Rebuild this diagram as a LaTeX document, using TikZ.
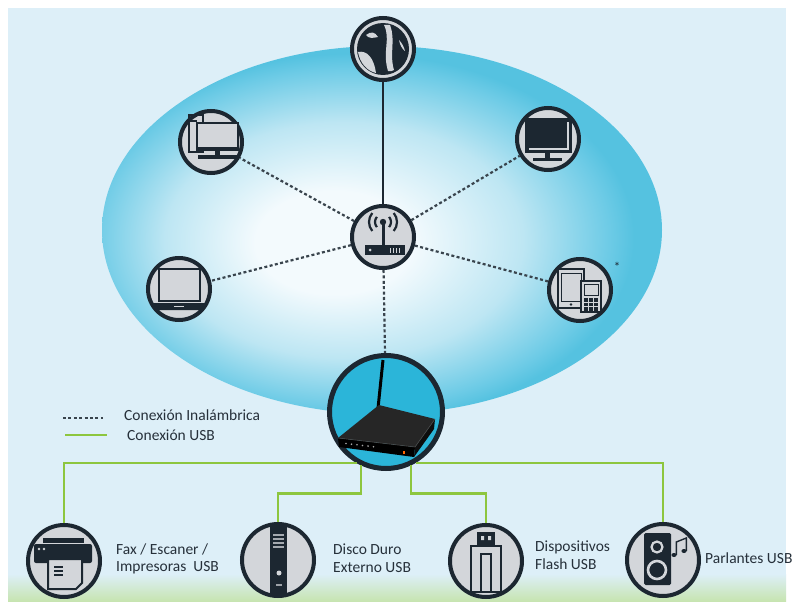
\documentclass[tikz,border=0pt]{standalone}
\usepackage{fontspec}
\setmainfont{Carlito}
\usetikzlibrary{positioning}

\definecolor{bgblue}{HTML}{DDEFF8}
\definecolor{bggreen}{HTML}{C6E4AE}
\definecolor{bubcore}{HTML}{F3FAFD}
\definecolor{bubmid}{HTML}{BDE6F3}
\definecolor{bubedge}{HTML}{6DCBE6}
\definecolor{bubrim}{HTML}{55C2E0}
\definecolor{devline}{HTML}{1C2731}
\definecolor{devgrey}{HTML}{D3D6DA}
\definecolor{modemcyan}{HTML}{2BB5D9}
\definecolor{dashgrey}{HTML}{39444D}
\definecolor{usbgreen}{HTML}{8DC63F}
\definecolor{txtdark}{HTML}{26303A}

% soft bubble behind the wireless devices
\pgfdeclareradialshading{bubble}{\pgfpoint{-5bp}{-2bp}}{%
  color(0bp)=(bubcore); color(7bp)=(bubcore); color(16bp)=(bubmid);
  color(23bp)=(bubedge); color(25bp)=(bubrim); color(50bp)=(bubrim)}

\begin{document}
\begin{tikzpicture}[x=1pt, y=-1pt,
    device/.style={circle, draw=devline, line width=4pt, fill=devgrey, minimum size=62pt, inner sep=0pt},
    usbdevice/.style={device, minimum size=72pt},
    bigdevice/.style={device, minimum size=113pt, line width=5pt, fill=modemcyan},
    wifi/.style={draw=dashgrey, line width=2.2pt, dash pattern=on 3pt off 2.4pt},
    cable/.style={draw=devline, line width=1.6pt},
    usb/.style={draw=usbgreen, line width=2.8pt},
    lbl/.style={anchor=west, inner sep=0pt, align=left, text=txtdark, font=\fontsize{15.5}{17.5}\selectfont}
  ]
  \useasboundingbox (0,0) rectangle (793,602);

  % background
  \fill[white] (0,0) rectangle (793,602);
  \fill[bgblue] (8,8) rectangle (786,602);
  \shade[top color=bgblue, bottom color=bggreen] (8,574) rectangle (786,602);
  \shade[shading=bubble] (382,230) ellipse (280 and 184);

  % devices
  \node[device] (globe) at (383,49) {};
  \node[device] (pc) at (211,142) {};
  \node[device] (tv) at (548,139) {};
  \node[device] (hub) at (383,237) {};
  \node[device] (laptop) at (179,289) {};
  \node[device] (mobile) at (580,290) {};
  \node[bigdevice] (modem) at (386,412) {};
  \node[usbdevice] (printer) at (64,561) {};
  \node[usbdevice] (disk) at (278,560) {};
  \node[usbdevice] (flash) at (486,561) {};
  \node[usbdevice] (speaker) at (663,560) {};

  % connections
  \draw[cable] (globe) -- (hub);
  \draw[wifi] (hub) -- (pc);
  \draw[wifi] (hub) -- (tv);
  \draw[wifi] (hub) -- (laptop);
  \draw[wifi] (hub) -- (mobile);
  \draw[wifi] (hub) -- (modem);
  \draw[usb] (modem.240) -| (printer);
  \draw[usb] (modem.300) -| (speaker);
  \draw[usb] (modem.245) -- ++(0,28) -| (disk);
  \draw[usb] (modem.295) -- ++(0,28) -| (flash);

  % globe
  \begin{scope}[shift={(globe)}]
    \fill[devline] (0,0) circle (26);
    % oceans
    \fill[devgrey] (-25,3) .. controls (-16,1) and (-9,9) .. (-7,24) .. controls (-16,22) and (-23,14) .. cycle;
    \fill[devgrey] (1,-24) .. controls (8,-10) and (-1,2) .. (5,22) .. controls (7,23) and (9,22) .. (11,21)
      .. controls (6,4) and (13,-8) .. (7,-24) -- cycle;
    \fill[devgrey] (-17,-14) .. controls (-12,-18) and (-8,-17) .. (-5,-12) .. controls (-10,-11) and (-14,-10) .. cycle;
    \fill[devgrey] (16,-9) .. controls (19,-6) and (21,-2) .. (22,2) .. controls (19,0) and (17,-4) .. cycle;
  \end{scope}

  % desktop pc
  \begin{scope}[shift={(pc)}]
    \draw[devline, line width=2pt] (-22,-27) rectangle (-8,10);
    \draw[devline, line width=1.5pt] (-22,-21) -- (-14,-21);
    \draw[devline, line width=2.4pt, fill=devgrey] (-14,-19) rectangle (27,8);
    \fill[devline] (-14,5) rectangle (27,8);
    \fill[devline] (4,8) rectangle (9,13);
    \fill[devline] (-13,13) rectangle (26,17);
  \end{scope}

  % tv
  \begin{scope}[shift={(tv)}]
    \fill[devline] (-23,-21) rectangle (24,14);
    \draw[devgrey, line width=1.2pt] (20,-17) -- (20,10) -- (-19,10);
    \fill[devline] (-3,14) rectangle (2,20);
    \fill[devline] (-15,19) rectangle (14,22);
  \end{scope}

  % wireless hub
  \begin{scope}[shift={(hub)}]
    \fill[devline] (0,-15) circle (3.2);
    \draw[devline, line width=3pt] (0,-15) -- (0,8);
    \foreach \r in {8,14} {
      \draw[devline, line width=2.2pt] (0,-15) ++(140:\r) arc (140:220:\r);
      \draw[devline, line width=2.2pt] (0,-15) ++(40:\r) arc (40:-40:\r);
    }
    \fill[devline] (-18,8) rectangle (22,18);
    \fill[devgrey] (-13,13) circle (1.5);
    \foreach \x in {7,10,13,16} \fill[devgrey] (\x,11) rectangle ++(1.4,5);
  \end{scope}

  % laptop
  \begin{scope}[shift={(laptop)}]
    \draw[devline, line width=2.6pt, fill=devgrey] (-20,-20) rectangle (21,12);
    \fill[devline] (-26,14) -- (26,14) -- (24,21) -- (-24,21) -- cycle;
    \fill[devgrey] (-5,16.5) rectangle (5,18);
  \end{scope}

  % tablet and phone
  \begin{scope}[shift={(mobile)}]
    \draw[devline, line width=2.2pt, fill=devgrey] (-22,-21) rectangle (4,18);
    \draw[devline, line width=1pt] (-19,-17) rectangle (1,11);
    \fill[devline] (-9,14.5) circle (1.4);
    \draw[devline, line width=2.2pt, fill=devgrey] (1,-9) rectangle (21,22);
    \draw[devline, line width=1pt] (4,-6) rectangle (18,5);
    \foreach \i in {0,1,2}
      \foreach \j in {0,1,2}
        \fill[devline] (4+\i*5, 8+\j*4.6) rectangle ++(4,3.6);
  \end{scope}
  \node[font=\fontsize{13}{13}\selectfont, text=devline, inner sep=0pt] (star) at (617,267) {*};

  % router with antenna
  \begin{scope}[shift={(modem)}]
    \draw[black, line width=3pt] (-3,-52) -- (-9,6);
    \fill[black!85] (-48,26) -- (-7,-7) -- (49,7) -- (29,35) -- cycle;
    \fill[black] (-48,26) -- (29,35) -- (28,45) -- (-47,35) -- cycle;
    \fill[black!95] (29,35) -- (49,7) -- (48,17) -- (28,45) -- cycle;
    \draw[gray!60!black, line width=0.6pt] (-48,26) -- (29,35) -- (49,7);
    \foreach \i in {0,...,5} \fill[gray!70] (-40+\i*5.5, 31.5+\i*0.65) circle (0.9);
    \fill[orange!80!red] (17,39) rectangle (19,42);
  \end{scope}

  % printer
  \begin{scope}[shift={(printer)}]
    \fill[devline] (-21,-23) rectangle (20,-18);
    \fill[devline, rounded corners=2pt] (-30,-17) rectangle (28,2);
    \fill[devgrey] (-25,-12) circle (1.3) (-20,-12) circle (1.3);
    \draw[devline, line width=2pt, fill=devgrey] (-16,-2) -- (18,-2) -- (18,22) -- (12,28) -- (-16,28) -- cycle;
    \foreach \y in {6,10,14} \draw[devline, line width=1.3pt] (-10,\y) -- (-1,\y);
  \end{scope}

  % external disk
  \begin{scope}[shift={(disk)}]
    \fill[devline] (-8,-34) rectangle (9,34);
    \foreach \y in {-26,-22,-18,-14} \fill[devgrey!75!devline] (-5,\y) rectangle (6,\y+2);
    \fill[devgrey] (1,13) circle (2.5);
    \fill[devgrey!70!devline] (-2,24) rectangle (4,25.5);
  \end{scope}

  % flash drive
  \begin{scope}[shift={(flash)}]
    \fill[devline] (-9,-29) rectangle (9,-15);
    \fill[devgrey] (-5,-25) rectangle (-2,-21) (2,-25) rectangle (5,-21);
    \draw[devline, line width=2.6pt, fill=devgrey] (-15,-15) rectangle (15,31);
    \draw[devline, line width=2.6pt] (-5,-7) rectangle (5,31);
  \end{scope}

  % speaker
  \begin{scope}[shift={(speaker)}]
    \fill[devline, rounded corners=1.5pt] (-19,-27) rectangle (8,25);
    \draw[devgrey, line width=2.2pt] (-6,-13) circle (5.5);
    \draw[devgrey, line width=2.6pt] (-6,10) circle (9);
    \fill[devline] (11,-5) ellipse (2.6 and 2);
    \fill[devline] (21,-9) ellipse (2.6 and 2);
    \draw[devline, line width=1.4pt] (13.3,-5) -- (13.3,-18) -- (23.3,-22) -- (23.3,-9);
  \end{scope}

  % legend
  \coordinate (wifiA) at (63,418);
  \coordinate (wifiB) at (103,418);
  \coordinate (usbA) at (65,435);
  \coordinate (usbB) at (107,435);
  \draw[wifi] (wifiA) -- (wifiB);
  \draw[usb] (usbA) -- (usbB);
  \node[lbl] (wifilbl) at (124,415) {Conexión Inalámbrica};
  \node[lbl] (usblbl) at (127,435) {Conexión USB};

  % usb device labels
  \node[lbl] (faxlbl) at (116,559) {Fax / Escaner /\\Impresoras\ \ USB};
  \node[lbl] (disklbl) at (333,558) {Disco Duro\\Externo USB};
  \node[lbl] (flashlbl) at (535,555) {Dispositivos\\Flash USB};
  \node[lbl] (speakerlbl) at (705,558) {Parlantes USB};
\end{tikzpicture}
\end{document}
